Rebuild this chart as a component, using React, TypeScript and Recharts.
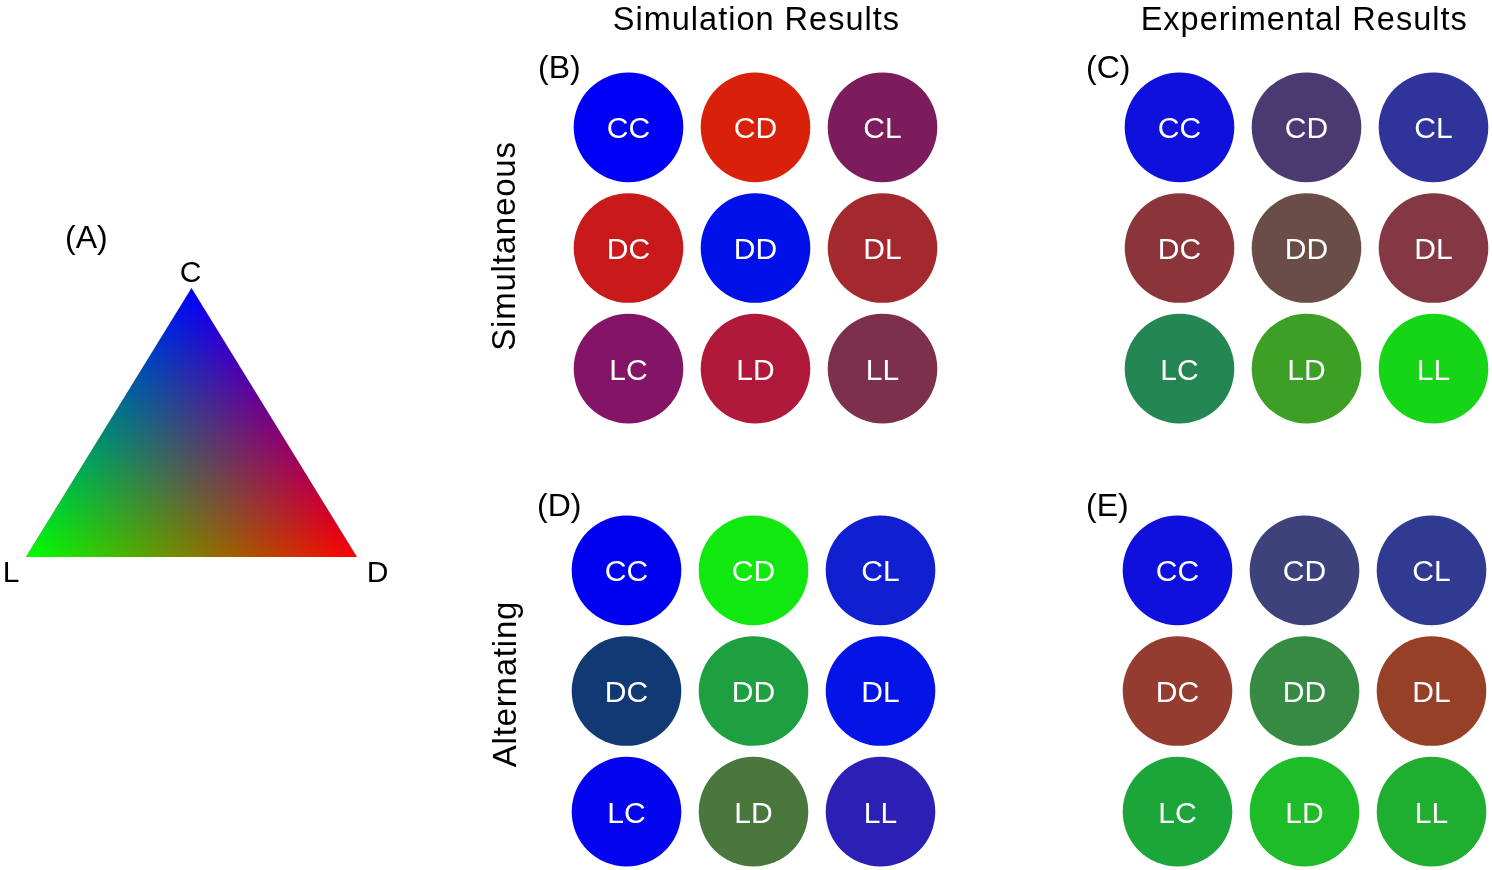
import React from "react";
import { ScatterChart, Scatter, XAxis, YAxis, ComposedChart, Area } from "recharts";

// ---------- data ----------
const MOVES = ["C", "D", "L"];
const COLUMN_TITLES = ["Simulation Results", "Experimental Results"];
const ROW_TITLES = ["Simultaneous", "Alternating"];
const PANEL_LABELS = ["(A)", "(B)", "(C)", "(D)", "(E)"];

// colours of each strategy pair, row-major: CC, CD, CL, DC, DD, DL, LC, LD, LL
const SIM_SIMULTANEOUS = ["#0000f5", "#d92008", "#7d1c5c", "#c81a1a", "#0010e8", "#a4292e", "#841466", "#b0193a", "#7d304c"];
const EXP_SIMULTANEOUS = ["#1010dc", "#4b3a72", "#30339a", "#8a353a", "#694d46", "#843844", "#248652", "#3d9f26", "#16d516"];
const SIM_ALTERNATING = ["#0000f0", "#10e810", "#1020d0", "#113a74", "#1ea040", "#0414e6", "#0404ee", "#4a773e", "#2c20b4"];
const EXP_ALTERNATING = ["#1010dc", "#3e427a", "#303a90", "#943c30", "#368a44", "#964028", "#1ca63a", "#1ebc28", "#20ae30"];

// ternary simplex vertices (x, y in unit space)
const TRIANGLE = [
  { x: 0, y: 0 },
  { x: 0.5, y: 1 },
  { x: 1, y: 0 },
];
const VERTICES = [
  { x: 0.5, y: 1, label: "C" },
  { x: 0, y: 0, label: "L" },
  { x: 1, y: 0, label: "D" },
];

// ---------- styling ----------
const FONT = "'Liberation Sans', Arial, Helvetica, sans-serif";
const VERTEX_OFFSET: Record<string, [number, number]> = { C: [-1, -6], L: [-15, 25], D: [20.5, 25] };

function buildCells(colors: string[]) {
  return colors.map((color, i) => ({
    x: i % 3,
    y: Math.floor(i / 3),
    label: MOVES[Math.floor(i / 3)] + MOVES[i % 3],
    color,
  }));
}

const CircleCell = (props: any) => {
  const { cx, cy, payload } = props;
  return (
    <g>
      <circle cx={cx} cy={cy} r={54.8} fill={payload.color} />
      <text x={cx} y={cy + 11} textAnchor="middle" fill="#ffffff" fontSize={30} fontFamily={FONT}>
        {payload.label}
      </text>
    </g>
  );
};

const VertexLabel = (props: any) => {
  const { cx, cy, payload } = props;
  const [dx, dy] = VERTEX_OFFSET[payload.label];
  return (
    <text x={cx + dx} y={cy + dy} textAnchor="middle" fill="#000" fontSize={30} fontFamily={FONT}>
      {payload.label}
    </text>
  );
};

function Panel({ colors, left, top }: { colors: string[]; left: number; top: number }) {
  const data = buildCells(colors);
  return (
    <div style={{ position: "absolute", left, top }}>
      <ScatterChart width={381} height={362} margin={{ top: 0, right: 0, bottom: 0, left: 0 }}>
        <XAxis type="number" dataKey="x" domain={[-0.5, 2.5]} hide />
        <YAxis type="number" dataKey="y" domain={[-0.5, 2.5]} reversed hide />
        <Scatter data={data} dataKey="y" isAnimationActive={false} shape={CircleCell} />
      </ScatterChart>
    </div>
  );
}

function Triangle() {
  return (
    <div style={{ position: "absolute", left: 0, top: 200 }}>
      <ComposedChart width={400} height={400} data={TRIANGLE} margin={{ top: 88, left: 26, right: 43, bottom: 43 }}>
        <defs>
          <linearGradient id="gBlue" x1={0} y1={0} x2={0} y2={1}>
            <stop offset={0} stopColor="#0000ff" />
            <stop offset={1} stopColor="#000000" />
          </linearGradient>
          <linearGradient id="gRed" x1={0.5} y1={0} x2={1.3} y2={0.4}>
            <stop offset={0} stopColor="#000000" />
            <stop offset={1} stopColor="#ff0000" />
          </linearGradient>
          <linearGradient id="gGreen" x1={0.5} y1={0} x2={-0.3} y2={0.4}>
            <stop offset={0} stopColor="#000000" />
            <stop offset={1} stopColor="#00ff00" />
          </linearGradient>
        </defs>
        <XAxis type="number" dataKey="x" domain={[0, 1]} hide />
        <YAxis type="number" domain={[0, 1]} hide />
        <Area type="linear" dataKey="y" stroke="none" fill="#000000" fillOpacity={1} dot={false} activeDot={false} isAnimationActive={false} />
        <Area type="linear" dataKey="y" stroke="none" fill="url(#gBlue)" fillOpacity={1} className="blend-screen" dot={false} activeDot={false} isAnimationActive={false} />
        <Area type="linear" dataKey="y" stroke="none" fill="url(#gRed)" fillOpacity={1} className="blend-screen" dot={false} activeDot={false} isAnimationActive={false} />
        <Area type="linear" dataKey="y" stroke="none" fill="url(#gGreen)" fillOpacity={1} className="blend-screen" dot={false} activeDot={false} isAnimationActive={false} />
        <Scatter data={VERTICES} dataKey="y" isAnimationActive={false} shape={VertexLabel} />
      </ComposedChart>
    </div>
  );
}

export default function App() {
  const titleStyle = { fontSize: 32.5, letterSpacing: 1, fontFamily: FONT, fill: "#000" } as const;
  const rowStyle = { fontSize: 33, letterSpacing: 0.8, fontFamily: FONT, fill: "#000" } as const;
  const panelStyle = { fontSize: 32, fontFamily: FONT, fill: "#000" } as const;
  return (
    <div style={{ position: "absolute", left: 0, top: 0, width: 1492, height: 870, overflow: "hidden", background: "#fff" }}>
      <style>{`.blend-screen { mix-blend-mode: screen; }`}</style>
      <Triangle />
      <Panel colors={SIM_SIMULTANEOUS} left={565} top={66.7} />
      <Panel colors={EXP_SIMULTANEOUS} left={1115.5} top={66.7} />
      <Panel colors={SIM_ALTERNATING} left={562.5} top={509.7} />
      <Panel colors={EXP_ALTERNATING} left={1113.5} top={509.7} />
      <svg width={1492} height={870} style={{ position: "absolute", left: 0, top: 0, pointerEvents: "none" }}>
        <text x={756.4} y={29.5} textAnchor="middle" style={titleStyle}>{COLUMN_TITLES[0]}</text>
        <text x={1304.2} y={30} textAnchor="middle" style={titleStyle}>{COLUMN_TITLES[1]}</text>
        <text x={515} y={246} textAnchor="middle" transform="rotate(-90 515 246)" style={rowStyle}>{ROW_TITLES[0]}</text>
        <text x={516} y={684} textAnchor="middle" transform="rotate(-90 516 684)" style={rowStyle}>{ROW_TITLES[1]}</text>
        <text x={65} y={248} style={panelStyle}>{PANEL_LABELS[0]}</text>
        <text x={538} y={78} style={panelStyle}>{PANEL_LABELS[1]}</text>
        <text x={1086} y={78} style={panelStyle}>{PANEL_LABELS[2]}</text>
        <text x={537} y={516} style={panelStyle}>{PANEL_LABELS[3]}</text>
        <text x={1086} y={516} style={panelStyle}>{PANEL_LABELS[4]}</text>
      </svg>
    </div>
  );
}
